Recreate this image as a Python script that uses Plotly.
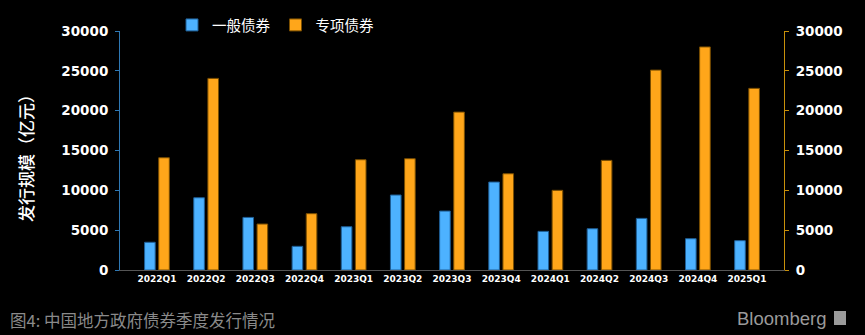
import plotly.graph_objects as go

quarters = ["2022Q1", "2022Q2", "2022Q3", "2022Q4", "2023Q1", "2023Q2", "2023Q3",
            "2023Q4", "2024Q1", "2024Q2", "2024Q3", "2024Q4", "2025Q1"]
general_bonds = [3480, 9070, 6600, 2970, 5430, 9410, 7400, 11040, 4850, 5180, 6480, 3930, 3680]
special_bonds = [14090, 24050, 5770, 7070, 13840, 13970, 19820, 12080, 10000, 13760, 25090, 28000, 22800]

BLUE = "#4DB2FF"
ORANGE = "#FFA61A"
W, H = 865, 335
L, R, T, B = 120, 81, 31, 65
pw = W - L - R
ph = H - T - B

fig = go.Figure()
fig.add_trace(go.Bar(x=quarters, y=general_bonds, name="一般债券",
                     marker=dict(color=BLUE, line=dict(color="#1E5E96", width=1))))
fig.add_trace(go.Bar(x=quarters, y=special_bonds, name="专项债券",
                     marker=dict(color=ORANGE, line=dict(color="#7A4E00", width=1))))
# invisible helper trace so the right-hand axis is drawn
fig.add_trace(go.Scatter(x=quarters, y=special_bonds, yaxis="y2", mode="markers",
                         marker=dict(opacity=0), showlegend=False, hoverinfo="skip"))

tickfont = dict(family="DejaVu Sans", size=13.5, color="white", weight="bold")

fig.update_layout(
    width=W, height=H,
    margin=dict(l=L, r=R, t=T, b=B, autoexpand=False),
    paper_bgcolor="black", plot_bgcolor="black",
    barmode="group", bargap=0.425, bargroupgap=0.25,
    showlegend=True,
    legend=dict(orientation="h", xref="container", x=172 / W, xanchor="left",
                yref="container", y=1 - 25 / H, yanchor="middle",
                font=dict(family="Noto Sans CJK SC", size=14.5, color="white"),
                bgcolor="rgba(0,0,0,0)", itemwidth=30, traceorder="normal"),
    xaxis=dict(type="category", showgrid=False, showline=True, linecolor="#555555",
               linewidth=1, ticks="", zeroline=False,
               tickfont=dict(family="DejaVu Sans", size=9, color="white", weight="bold")),
    yaxis=dict(range=[0, 30000], dtick=5000, showgrid=False, zeroline=False,
               showline=True, linecolor="#2E78B4", linewidth=1,
               ticks="outside", ticklen=4, tickcolor="#2E78B4",
               tickfont=tickfont, tickformat="d", ticklabelstandoff=4),
    yaxis2=dict(range=[0, 30000], dtick=5000, overlaying="y", side="right",
                showgrid=False, zeroline=False, showline=True, linecolor="#C8900A",
                linewidth=1, ticks="outside", ticklen=4, tickcolor="#C8900A",
                tickfont=tickfont, tickformat="d", ticklabelstandoff=4),
    annotations=[
        dict(text="发行规模（亿元）", xref="paper", yref="paper",
             x=(25 - L) / pw, y=(T + ph - 154) / ph, xanchor="center", yanchor="middle",
             textangle=-90, showarrow=False,
             font=dict(family="Noto Sans CJK SC", size=17, color="white", weight=500)),
        dict(text="图4: 中国地方政府债券季度发行情况", xref="paper", yref="paper",
             x=(8 - L) / pw, y=(T + ph - 320) / ph, xanchor="left", yanchor="middle",
             showarrow=False,
             font=dict(family="Noto Sans CJK SC", size=16.5, color="#8A8A8A")),
        dict(text="Bloomberg", xref="paper", yref="paper",
             x=(828 - L) / pw, y=(T + ph - 318) / ph, xanchor="right", yanchor="middle",
             showarrow=False,
             font=dict(family="Liberation Sans", size=18.5, color="#9A9A9A")),
    ],
    shapes=[
        dict(type="rect", xref="paper", yref="paper",
             x0=(834 - L) / pw, x1=(846 - L) / pw,
             y0=(T + ph - 325) / ph, y1=(T + ph - 311) / ph,
             fillcolor="#9A9A9A", line=dict(width=0)),
    ],
)

fig.write_html("out.html")
